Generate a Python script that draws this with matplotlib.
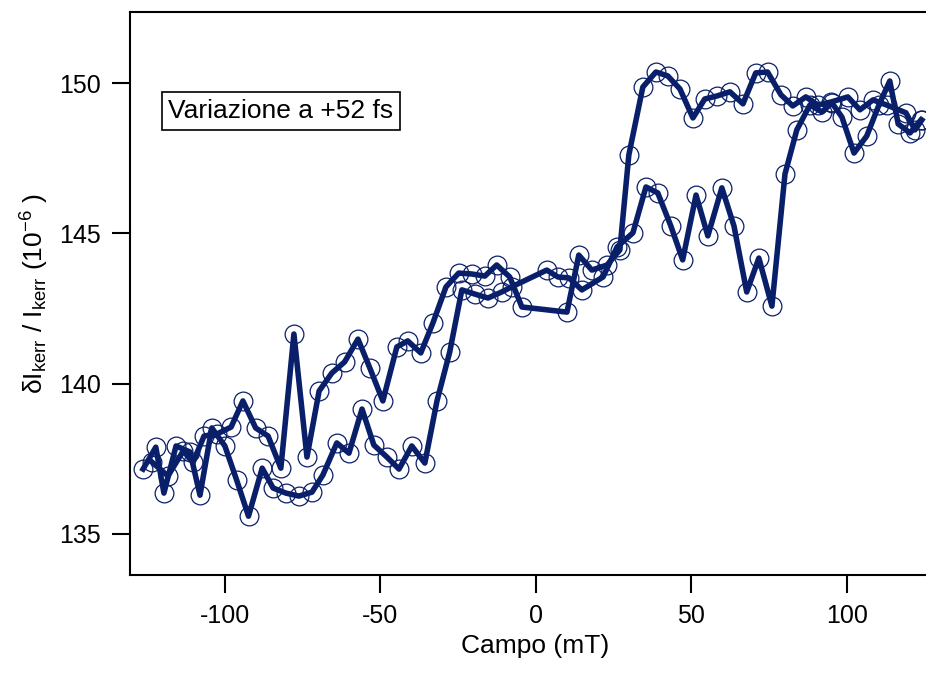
import matplotlib
matplotlib.use("Agg")
import matplotlib.pyplot as plt

plt.rcParams['font.family'] = ['Liberation Sans', 'DejaVu Sans']
plt.rcParams['mathtext.fontset'] = 'custom'
plt.rcParams['mathtext.rm'] = 'Liberation Sans'
plt.rcParams['mathtext.it'] = 'Liberation Sans:italic'
plt.rcParams['mathtext.default'] = 'regular'
plt.rcParams['axes.unicode_minus'] = False

# Branch 1: low at negative field, switches near -30 mT and again near +78 mT
field_1 = [-126.3, -122.2, -119.6, -115.7, -111.2, -108.0, -104.2, -100.0, -96.2, -92.4,
           -88.0, -84.5, -80.4, -76.2, -72.0, -68.5, -64.0, -60.1, -55.9, -52.1,
           -47.9, -44.0, -39.9, -35.7, -31.8, -27.7, -23.8, -19.6, -15.4, -11.0,
           -7.8, 3.5, 7.1, 10.6, 14.8, 21.6, 26.1, 31.2, 35.4, 39.2,
           43.4, 47.2, 51.5, 55.3, 59.8, 63.7, 67.8, 71.7, 75.9, 80.1,
           83.9, 88.1, 92.0, 95.2, 98.4, 102.3, 106.4, 110.3, 113.8, 116.5,
           120.3, 123.8]
signal_1 = [137.15, 137.88, 136.35, 137.92, 137.72, 136.28, 138.52, 137.92, 136.78, 135.58,
            137.18, 136.52, 136.35, 136.25, 136.38, 136.95, 138.02, 137.68, 139.15, 137.95,
            137.55, 137.15, 137.92, 137.35, 139.42, 141.05, 143.12, 142.98, 142.85, 143.05,
            143.22, 143.78, 143.55, 143.52, 143.12, 143.55, 144.55, 145.02, 146.55, 146.35,
            145.25, 144.12, 146.28, 144.92, 146.52, 145.25, 143.05, 144.18, 142.58, 146.98,
            148.45, 149.28, 149.05, 149.35, 148.88, 147.68, 148.25, 149.28, 150.08, 148.65,
            148.35, 148.78]

# Branch 2: spike near -78 mT, switches near +30 mT
field_2 = [-123.4, -118.3, -113.4, -110.2, -106.7, -102.5, -98.0, -94.2, -90.1, -86.1,
           -82.0, -77.8, -73.6, -69.7, -65.6, -61.5, -57.2, -53.4, -49.2, -44.7,
           -41.2, -37.0, -33.1, -28.9, -24.8, -20.6, -16.4, -12.6, -8.4, -4.5,
           10.0, 13.8, 18.0, 22.9, 27.0, 29.9, 34.4, 38.6, 42.4, 46.3,
           50.5, 54.3, 58.2, 62.4, 66.6, 70.7, 74.5, 78.8, 82.6, 86.8,
           90.7, 94.9, 100.3, 104.2, 108.4, 112.8, 119.0, 121.9, 124.1]
signal_2 = [137.38, 136.92, 137.75, 137.38, 138.25, 138.32, 138.55, 139.42, 138.52, 138.25,
            137.18, 141.65, 137.55, 139.75, 140.35, 140.72, 141.48, 140.52, 139.42, 141.22,
            141.42, 141.02, 142.02, 143.22, 143.68, 143.65, 143.58, 143.95, 143.55, 142.55,
            142.38, 144.28, 143.78, 143.95, 144.45, 147.62, 149.88, 150.38, 150.25, 149.82,
            148.85, 149.48, 149.58, 149.72, 149.32, 150.35, 150.38, 149.62, 149.25, 149.55,
            149.28, 149.38, 149.55, 149.12, 149.45, 149.28, 149.02, 148.45, 148.78]

x_ticks = [-100, -50, 0, 50, 100]
y_ticks = [135, 140, 145, 150]

navy = '#0a1f6a'

fig = plt.figure(figsize=(9.26, 6.73), dpi=100)
ax = fig.add_axes([0.1404, 0.1456, 0.8749, 0.8366])

for fx, sy in ((field_1, signal_1), (field_2, signal_2)):
    ax.plot(fx, sy, color=navy, lw=4.0, marker='o', ms=13.5,
            mfc='none', mec=navy, mew=0.9, solid_joinstyle='round')

ax.set_xlim(-130.5, 130)
ax.set_ylim(133.62, 152.38)
ax.set_xticks(x_ticks)
ax.set_yticks(y_ticks)
ax.tick_params(direction='out', length=13, width=1.5, labelsize=18, pad=8)
for sp in ax.spines.values():
    sp.set_linewidth(1.5)

ax.set_xlabel('Campo (mT)', fontsize=19, labelpad=4)
ax.set_ylabel('δI$_{kerr}$ / I$_{kerr}$ (10$^{-6}$ )', fontsize=19, labelpad=6)

ax.text(0.1864, 0.824, 'Variazione a +52 fs', transform=ax.transAxes,
        fontsize=19, ha='center', va='center',
        bbox=dict(boxstyle='square,pad=0.25', fc='white', ec='black', lw=1.2))

fig.savefig('out.png', dpi=100)
